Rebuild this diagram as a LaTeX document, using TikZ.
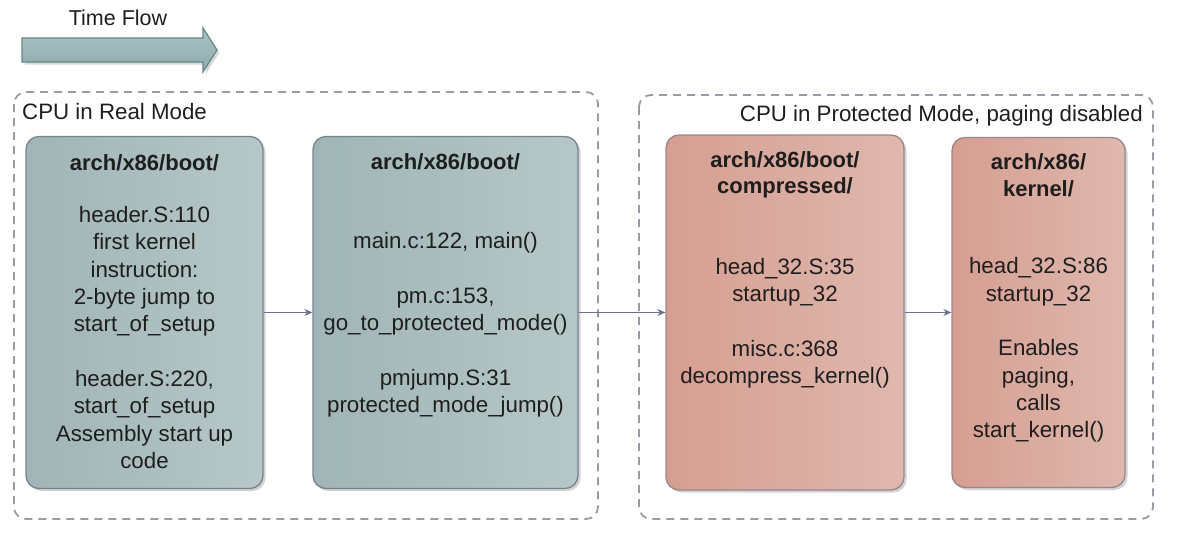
\documentclass[tikz,border=0pt]{standalone}
\usepackage{fontspec}
\setmainfont{Liberation Sans}
\usetikzlibrary{shadows,arrows.meta}
\definecolor{bL}{RGB}{160,181,183}
\definecolor{bR}{RGB}{182,199,199}
\definecolor{bD}{RGB}{118,132,142}
\definecolor{rL}{RGB}{214,158,145}
\definecolor{rR}{RGB}{223,184,174}
\definecolor{rD}{RGB}{150,135,143}
\definecolor{grpc}{RGB}{155,155,168}
\definecolor{connc}{RGB}{108,114,140}
\definecolor{txt}{RGB}{30,30,30}
\definecolor{tfL}{RGB}{170,196,196}
\definecolor{tfD}{RGB}{140,170,172}
\definecolor{tfB}{RGB}{105,135,138}
\begin{document}
\begin{tikzpicture}[x=1pt,y=-1pt,
  box/.style={line width=1.3pt, rounded corners=13pt, inner sep=0pt,
    drop shadow={shadow xshift=2.5pt, shadow yshift=-2.5pt, opacity=0.35}},
  bluebox/.style={box, draw=bD, left color=bL, right color=bR},
  redbox/.style={box, draw=rD, left color=rL, right color=rR},
  grp/.style={draw=grpc, line width=1.8pt, dash pattern=on 8pt off 6pt, rounded corners=12pt},
  lbl/.style={font=\fontsize{22.3}{27.3}\selectfont, text=txt, inner sep=0pt, align=center},
  ttl/.style={font=\bfseries\fontsize{22}{26.5}\selectfont, text=txt, inner sep=0pt, align=center},
  conn/.style={draw=connc, line width=1.2pt, -{Stealth[length=8pt,width=7pt]}}]
\useasboundingbox (0,0) rectangle (1177,538);

% time flow arrow
\node[lbl, font=\fontsize{21.5}{25}\selectfont] (tft) at (118,18) {Time Flow};
\path[draw=tfB, line width=1.2pt, top color=tfL, bottom color=tfD,
  drop shadow={shadow xshift=2.5pt, shadow yshift=-2.5pt, opacity=0.3}]
  (22,38) -- (203,38) -- (203,28) -- (217,50) -- (203,72) -- (203,62) -- (22,62) -- cycle;

% groups
\draw[grp] (14,92) rectangle (598,519);
\draw[grp] (639,95) rectangle (1153,519);
\node[lbl, anchor=west] (g1) at (22,112) {CPU in Real Mode};
\node[lbl, anchor=east] (g2) at (1143,116) {CPU in Protected Mode, paging disabled};

% boxes
\node[bluebox, minimum width=237pt, minimum height=352pt] (b1) at (144.5,312.5) {};
\node[bluebox, minimum width=265pt, minimum height=352pt] (b2) at (445.5,312.5) {};
\node[redbox, minimum width=238pt, minimum height=355pt] (b3) at (785,312.5) {};
\node[redbox, minimum width=173pt, minimum height=350pt] (b4) at (1038.5,312.5) {};

% titles
\node[ttl] (t1) at (144.5,163) {arch/x86/boot/};
\node[ttl] (t2) at (445.5,162) {arch/x86/boot/};
\node[ttl] (t3) at (785,175) {arch/x86/boot/\\compressed/};
\node[ttl] (t4) at (1038.5,175) {arch/x86/\\kernel/};

% bodies
\node[lbl] (x1) at (144.5,337.5) {header.S:110\\first kernel\\instruction:\\2-byte jump to\\start\_of\_setup\\[27.3pt]header.S:220,\\start\_of\_setup\\Assembly start up\\code};
\node[lbl] (x2) at (445.5,325) {main.c:122, main()\\[27.3pt]pm.c:153,\\go\_to\_protected\_mode()\\[27.3pt]pmjump.S:31\\protected\_mode\_jump()};
\node[lbl] (x3) at (785,323) {head\_32.S:35\\startup\_32\\[27.3pt]misc.c:368\\decompress\_kernel()};
\node[lbl] (x4) at (1038.5,350) {head\_32.S:86\\startup\_32\\[27.3pt]Enables\\paging,\\calls\\start\_kernel()};

% connectors
\draw[conn] (b1.east) -- (b2.west);
\draw[conn] (b2.east) -- (b3.west);
\draw[conn] (b3.east) -- (b4.west);
\end{tikzpicture}
\end{document}
